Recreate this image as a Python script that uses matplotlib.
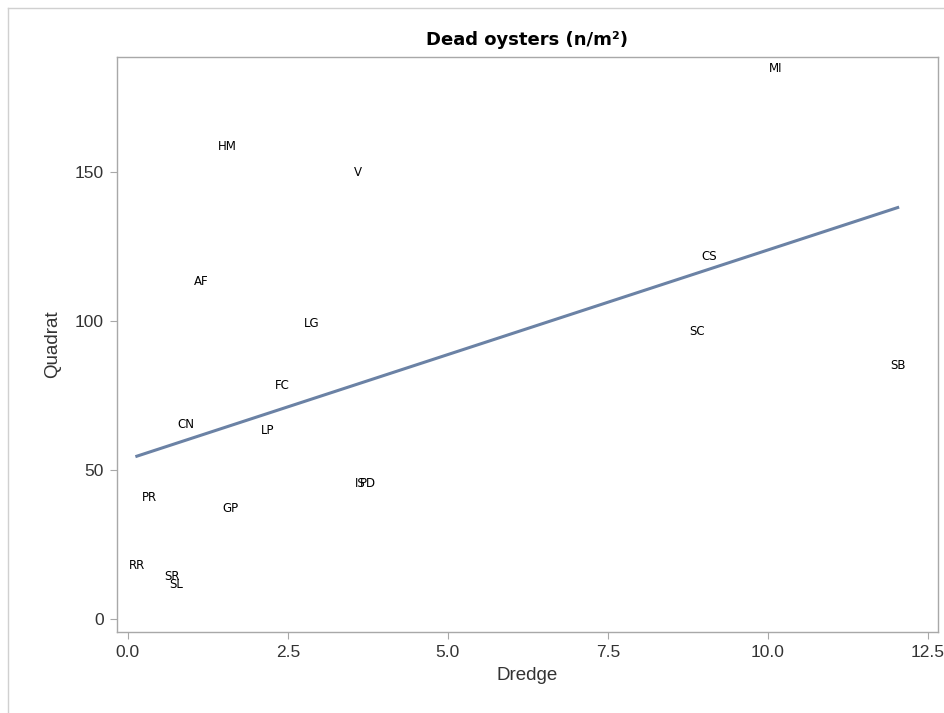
import numpy as np
import matplotlib.pyplot as plt
from matplotlib.lines import Line2D

plt.rcParams['font.family'] = ['Liberation Sans', 'DejaVu Sans']

# site codes with dredge and quadrat densities of dead oysters
sites = ['MI', 'HM', 'V', 'AF', 'LG', 'CS', 'SC', 'SB', 'FC',
         'CN', 'LP', 'IS', 'PD', 'PR', 'GP', 'RR', 'SR', 'SL']
dredge = [10.12, 1.56, 3.59, 1.14, 2.88, 9.09, 8.90, 12.03, 2.42,
          0.91, 2.19, 3.63, 3.75, 0.34, 1.61, 0.14, 0.69, 0.75]
quadrat = [184.6, 158.7, 150.0, 113.4, 99.0, 121.5, 96.6, 84.9, 78.2,
           65.1, 63.1, 45.3, 45.3, 40.6, 37.2, 17.8, 14.1, 11.4]

x = np.array(dredge)
y = np.array(quadrat)
slope, intercept = np.polyfit(x, y, 1)
xl = np.array([x.min(), x.max()])

fig = plt.figure(figsize=(9.45, 7.13), dpi=100)
ax = fig.add_axes([0.1238, 0.1136, 0.8688, 0.8064])

ax.plot(xl, intercept + slope * xl, color='#6b82a5', lw=2.2, zorder=2)
for s, xi, yi in zip(sites, x, y):
    ax.text(xi, yi, s, ha='center', va='center', fontsize=8.5,
            family='DejaVu Sans', color='black', zorder=3)

ax.set_xlim(-0.17, 12.66)
ax.set_ylim(-4.4, 188.6)
ax.set_xticks([0, 2.5, 5, 7.5, 10, 12.5])
ax.set_xticklabels(['0.0', '2.5', '5.0', '7.5', '10.0', '12.5'])
ax.set_yticks([0, 50, 100, 150])
for sp in ax.spines.values():
    sp.set_color('#a8a8a8')
    sp.set_linewidth(1)
ax.tick_params(direction='out', length=5, color='#a8a8a8', labelsize=12.5,
               labelcolor='#333333', pad=4.5)
ax.set_xlabel('Dredge', fontsize=13.5, color='#333333', labelpad=5)
ax.set_ylabel('Quadrat', fontsize=13.5, color='#333333', labelpad=10)
ax.set_title('Dead oysters (n/m²)', fontsize=13, fontweight='bold',
             family='DejaVu Sans', pad=9)

# thin frame around the graph area
fig.add_artist(Line2D([0.0085, 0.0085], [0, 0.989], transform=fig.transFigure,
                      color='#d0d0d0', lw=1))
fig.add_artist(Line2D([0.0085, 1], [0.989, 0.989], transform=fig.transFigure,
                      color='#d0d0d0', lw=1))

fig.savefig('out.png', dpi=100)
